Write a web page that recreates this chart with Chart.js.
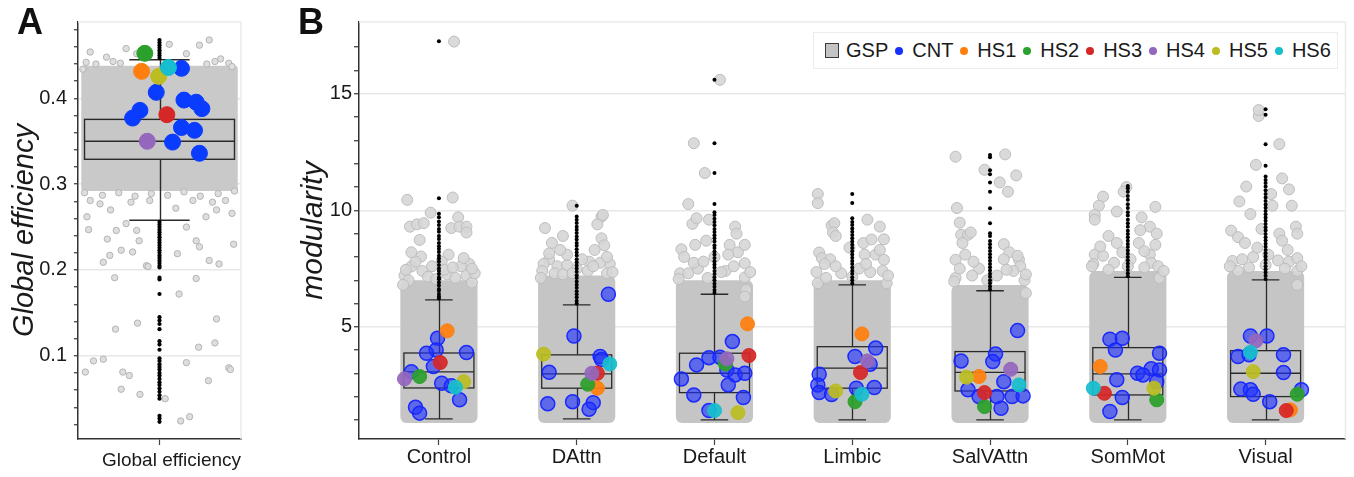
<!DOCTYPE html>
<html>
<head>
<meta charset="utf-8">
<script src="https://cdn.jsdelivr.net/npm/chart.js@4.4.1/dist/chart.umd.min.js"></script>
<style>
  body { margin: 0; background: #fff; }
  #wrap { position: relative; width: 1354px; height: 477px; overflow: hidden; font-family: "Liberation Sans", Arial, sans-serif; color: #1a1a1a; }
  #chartA { position: absolute; left: 0; top: 0; }
  #chartB { position: absolute; left: 255px; top: 0; }
  .panel { position: absolute; top: 4px; font-size: 36px; font-weight: bold; line-height: 36px; color: #111; }
  #legend { position: absolute; left: 813px; top: 32px; width: 525px; height: 37px; box-sizing: border-box;
            border: 1px solid #ececec; background: #fff; display: flex; align-items: center; font-size: 20px; }
  #legend .sq { width: 14px; height: 15px; margin-left: 11px; box-sizing: border-box; background: #c4c4c4; border: 1.5px solid #3a3a3a; }
  #legend .dot { width: 8px; height: 8px; border-radius: 50%; margin-left: 7px; }
  #legend .t { margin-left: 9px; }
</style>
</head>
<body>
<div id="wrap">
  <canvas id="chartA" width="250" height="477"></canvas>
  <canvas id="chartB" width="1099" height="477"></canvas>
  <div class="panel" style="left:17px">A</div>
  <div class="panel" style="left:298px">B</div>
  <div id="legend"></div>
</div>
<script>
const FONT = '"Liberation Sans", Arial, sans-serif';

// ---- panel A: global efficiency ----
const A_TICKS = [0.02, 0.04, 0.06, 0.08, 0.1, 0.12, 0.14, 0.16, 0.18, 0.2, 0.22, 0.24,
                 0.26, 0.28, 0.3, 0.32, 0.34, 0.36, 0.38, 0.4, 0.42, 0.44, 0.46, 0.48];
const A_LABELED = [0.1, 0.2, 0.3, 0.4];
const A_Q1 = [0.329];
const A_MED = [0.350];
const A_Q3 = [0.3755];
const A_LO = [0.258];
const A_HI = [0.445];
const A_CORE_TOP = [0.438];
const A_CORE_BOTTOM = [0.292];

// jitter, value
const GRAY_A = [
  [-0.91, 0.081], [-0.81, 0.094], [-0.69, 0.096], [-0.47, 0.061], [-0.45, 0.081], [-0.37, 0.077],
  [-0.24, 0.055], [-0.54, 0.131], [-0.27, 0.138], [-0.55, 0.191], [0.07, 0.05], [0.24, 0.172],
  [0.33, 0.092], [0.26, 0.024], [0.37, 0.029], [0.45, 0.19], [0.48, 0.11], [0.6, 0.071],
  [0.68, 0.115], [0.7, 0.143], [0.85, 0.086], [0.87, 0.084], [0.91, 0.23], [0.61, 0.211],
  [0.73, 0.207], [-0.16, 0.205], [-0.14, 0.204], [-0.47, 0.223], [-0.33, 0.221], [-0.61, 0.217],
  [-0.69, 0.209], [0.22, 0.219], [0.45, 0.234], [0.49, 0.227], [-0.89, 0.262], [-0.87, 0.247],
  [-0.64, 0.236], [-0.25, 0.234], [-0.53, 0.246], [-0.41, 0.254], [-0.28, 0.246], [0.33, 0.25],
  [0.57, 0.262], [0.89, 0.266], [-0.73, 0.277], [-0.85, 0.281], [0.65, 0.279], [0.81, 0.281],
  [0.41, 0.281], [-0.12, 0.281], [-0.6, 0.27], [0.2, 0.272], [-0.35, 0.279], [0.7, 0.27],
  [-0.92, 0.29], [-0.7, 0.287], [-0.5, 0.29], [-0.3, 0.286], [-0.1, 0.289], [0.1, 0.287],
  [0.3, 0.291], [0.5, 0.286], [0.72, 0.289], [0.92, 0.292],
  [-0.41, 0.458], [-0.28, 0.452], [0.49, 0.462], [0.61, 0.468], [0.12, 0.463], [-0.85, 0.454],
  [-0.65, 0.448], [0.75, 0.446], [0.85, 0.441], [-0.94, 0.434], [0.89, 0.437], [0.33, 0.452],
  [-0.57, 0.443], [-0.78, 0.44], [-0.48, 0.441], [0.58, 0.44], [0.68, 0.443], [-0.9, 0.442],
];
const BLACK_A = [
  0.447, 0.45, 0.453, 0.456, 0.459, 0.462, 0.465, 0.468,
  0.256, 0.253, 0.25, 0.247, 0.244, 0.241, 0.238, 0.235, 0.232, 0.229, 0.226, 0.223, 0.22,
  0.217, 0.214, 0.211, 0.208, 0.205, 0.203, 0.191, 0.189, 0.172, 0.145, 0.141, 0.137, 0.131,
  0.117, 0.113, 0.107, 0.097, 0.094, 0.09, 0.087, 0.084, 0.08, 0.077, 0.073, 0.069, 0.066,
  0.062, 0.058, 0.054, 0.05, 0.03, 0.027, 0.023,
];
const CNT_A = [
  [0.27, 0.435], [-0.04, 0.407], [0.3, 0.398], [0.45, 0.3955], [0.52, 0.388], [-0.24, 0.386],
  [-0.33, 0.377], [0.27, 0.366], [0.43, 0.3627], [0.16, 0.349], [0.49, 0.336],
];
const HS_A = [[-0.22, 0.4315], [-0.18, 0.4525], [0.09, 0.381], [-0.15, 0.35], [-0.01, 0.4257], [0.11, 0.436]];

// ---- panel B: modularity per network ----
const CATEGORIES = ['Control', 'DAttn', 'Default', 'Limbic', 'SalVAttn', 'SomMot', 'Visual'];
const B_TICKS = [1, 2, 3, 4, 5, 6, 7, 8, 9, 10, 11, 12, 13, 14, 15, 16, 17];
const B_LABELED = [5, 10, 15];
const B_Q1 = [2.38, 2.37, 2.18, 2.37, 2.25, 2.08, 2.01];
const B_MED = [3.07, 2.98, 3.01, 3.23, 3.05, 2.98, 3.01];
const B_Q3 = [3.88, 3.80, 3.87, 4.15, 3.94, 4.11, 3.98];
const B_LO = [1.05, 1.05, 1.01, 1.01, 1.01, 1.01, 1.01];
const B_HI = [6.16, 5.94, 6.40, 6.80, 6.55, 7.12, 7.02];
const B_CORE_TOP = [7.0, 7.2, 7.0, 7.0, 6.8, 7.4, 7.4];
const B_CORE_BOTTOM = [0.88, 0.88, 0.88, 0.88, 0.88, 0.88, 0.88];

const GRAY_B = [
  [[0.11, 17.24], [-0.23, 10.45], [0.1, 10.55], [-0.06, 9.9], [0.14, 9.7], [-0.21, 9.3], [-0.16, 9.4],
   [-0.11, 9.45], [0.09, 9.24], [0.15, 9.3], [0.2, 9.3], [0.2, 9.05], [-0.14, 8.73], [-0.13, 8.02],
   [0.07, 8.1], [-0.2, 7.59], [-0.25, 7.2], [0.22, 7.7], [0.2, 7.2], [0.24, 6.9], [0.16, 7.6],
   [0.06, 7.25], [-0.22, 7.0], [-0.12, 7.4], [-0.05, 7.6], [0.02, 7.8], [0.12, 7.1], [-0.26, 6.8],
   [0.26, 7.3], [-0.17, 7.8], [-0.24, 7.45], [-0.08, 7.15], [0.04, 7.45], [0.18, 7.95], [-0.2, 8.2],
   [0.24, 7.5], [-0.02, 7.05], [0.1, 7.55]],
  [[-0.03, 10.2], [0.18, 9.73], [0.19, 9.8], [-0.23, 9.24], [-0.1, 8.9], [-0.18, 8.6], [0.15, 9.4],
   [0.18, 8.8], [0.2, 8.5], [-0.2, 7.9], [-0.14, 7.6], [-0.24, 7.7], [0.24, 7.7], [0.09, 7.8],
   [0.17, 7.75], [-0.07, 7.65], [-0.25, 7.4], [-0.16, 7.3], [0.0, 7.5], [0.08, 7.4], [0.22, 7.3],
   [-0.07, 8.1], [0.13, 8.3], [-0.12, 8.3], [-0.26, 7.1], [-0.1, 7.25], [0.04, 7.9], [0.12, 7.6],
   [0.26, 7.35], [-0.2, 8.15], [0.22, 8.0], [-0.03, 7.3]],
  [[0.04, 15.6], [-0.15, 12.88], [-0.07, 11.6], [-0.19, 10.27], [-0.16, 9.42], [-0.13, 9.66],
   [-0.04, 9.6], [0.15, 9.3], [0.16, 9.0], [-0.24, 8.33], [-0.14, 8.52], [-0.06, 8.7], [0.11, 8.52],
   [0.17, 8.2], [0.22, 8.52], [0.22, 7.73], [-0.25, 7.3], [-0.19, 7.3], [-0.12, 7.5], [0.22, 7.12],
   [0.23, 6.59], [0.22, 6.3], [0.0, 8.0], [0.08, 7.4], [-0.05, 7.1], [-0.26, 7.05], [-0.15, 7.75],
   [0.05, 7.35], [0.14, 7.6], [0.26, 7.35], [-0.22, 8.0], [0.1, 8.1], [-0.08, 7.8]],
  [[-0.25, 10.7], [-0.25, 10.31], [0.11, 9.6], [0.2, 9.3], [0.23, 8.76], [-0.15, 9.35], [-0.13, 9.45],
   [-0.14, 9.05], [-0.12, 8.9], [-0.24, 8.19], [-0.22, 7.95], [-0.16, 7.9], [0.08, 8.6], [0.14, 8.75],
   [0.17, 8.1], [0.23, 7.88], [0.22, 7.4], [-0.25, 6.87], [-0.19, 7.1], [0.25, 6.87], [0.09, 8.1],
   [-0.02, 8.4], [0.05, 7.5], [-0.08, 7.3], [-0.26, 7.35], [-0.12, 7.6], [0.0, 7.15], [0.13, 7.35],
   [0.26, 7.2], [-0.2, 7.7], [0.2, 8.3], [0.1, 7.7]],
  [[-0.25, 12.3], [0.11, 12.4], [-0.04, 11.74], [0.07, 11.2], [0.19, 11.5], [0.13, 10.8], [-0.24, 10.1],
   [-0.22, 9.47], [-0.21, 8.95], [-0.16, 8.95], [-0.14, 9.05], [-0.2, 8.6], [-0.25, 7.88], [-0.25, 7.1],
   [0.1, 8.55], [0.14, 8.2], [0.21, 7.88], [0.22, 7.6], [0.17, 7.4], [0.25, 7.0], [0.26, 6.45],
   [0.1, 7.9], [-0.18, 8.1], [-0.08, 7.5], [0.05, 7.2], [-0.26, 6.95], [-0.13, 7.2], [-0.02, 7.0],
   [0.12, 7.45], [0.26, 7.25], [-0.22, 7.5], [0.2, 8.05], [-0.12, 7.8]],
  [[-0.01, 11.0], [-0.03, 10.8], [-0.18, 10.59], [-0.21, 10.2], [-0.24, 9.8], [-0.24, 9.6], [-0.08, 9.95],
   [0.1, 9.7], [0.2, 10.15], [0.16, 9.3], [0.21, 9.0], [0.09, 9.15], [-0.14, 8.9], [-0.08, 8.6],
   [0.08, 8.6], [0.2, 8.52], [0.16, 8.1], [-0.24, 8.1], [-0.18, 8.05], [-0.25, 7.7], [-0.1, 7.75],
   [0.17, 7.75], [0.22, 7.6], [0.23, 7.1], [0.02, 7.9], [-0.26, 7.6], [-0.14, 7.45], [0.0, 7.6],
   [0.12, 7.55], [0.26, 7.4], [-0.2, 8.45], [0.12, 8.25], [-0.04, 8.2]],
  [[-0.05, 14.05], [-0.05, 14.3], [0.1, 12.84], [-0.07, 11.95], [0.12, 11.37], [-0.14, 11.02],
   [0.17, 10.9], [-0.19, 10.38], [0.04, 10.7], [0.19, 10.2], [-0.11, 9.84], [0.05, 10.2], [0.22, 9.3],
   [-0.25, 9.13], [-0.2, 8.85], [-0.15, 8.6], [0.23, 9.0], [0.1, 9.0], [0.12, 8.7], [-0.03, 9.2],
   [-0.24, 7.83], [-0.17, 7.9], [-0.09, 8.0], [0.09, 7.85], [0.17, 7.8], [0.23, 7.95], [0.23, 7.4],
   [0.23, 6.8], [-0.2, 7.4], [-0.26, 7.6], [-0.12, 7.55], [0.0, 7.65], [0.14, 7.5], [0.26, 7.6],
   [-0.06, 8.4], [0.16, 8.3], [0.02, 8.1]],
];

const BLACK_B = [
  [6.22, 6.3, 6.41, 6.55, 6.62, 6.78, 6.9, 7.04, 7.12, 7.27, 7.4, 7.51, 7.66, 7.8, 7.93, 8.05, 8.21,
   8.34, 8.46, 8.6, 8.77, 8.9, 9.08, 9.2, 9.37, 9.52, 9.7, 9.85, 10.52, 17.25],
  [6.0, 6.12, 6.27, 6.4, 6.53, 6.68, 6.81, 6.95, 7.1, 7.22, 7.36, 7.5, 7.63, 7.77, 7.9, 8.06, 8.19,
   8.33, 8.48, 8.6, 8.75, 8.88, 9.03, 9.17, 9.3, 9.46, 9.6, 9.74, 10.2],
  [6.46, 6.58, 6.72, 6.85, 7.0, 7.13, 7.27, 7.4, 7.55, 7.68, 7.82, 7.96, 8.1, 8.23, 8.38, 8.5, 8.66,
   8.8, 8.93, 9.07, 9.2, 9.36, 9.5, 9.64, 9.8, 9.92, 10.27, 11.6, 12.88, 15.6],
  [6.86, 7.0, 7.13, 7.28, 7.41, 7.55, 7.7, 7.83, 7.97, 8.1, 8.25, 8.38, 8.52, 8.66, 8.8, 8.94, 9.08,
   9.22, 9.37, 9.5, 9.66, 10.31, 10.7],
  [6.6, 6.73, 6.87, 7.0, 7.15, 7.28, 7.42, 7.56, 7.7, 7.84, 7.98, 8.12, 8.26, 8.4, 8.55, 8.68, 8.9,
   9.02, 9.45, 10.09, 10.8, 11.19, 11.55, 11.72, 12.28, 12.37],
  [7.17, 7.3, 7.44, 7.58, 7.72, 7.86, 8.0, 8.14, 8.28, 8.43, 8.56, 8.7, 8.85, 8.98, 9.12, 9.3, 9.45,
   9.6, 9.78, 9.92, 10.1, 10.26, 10.45, 10.62, 10.8, 10.95, 11.04],
  [7.05, 7.19, 7.33, 7.47, 7.6, 7.74, 7.88, 8.02, 8.16, 8.3, 8.44, 8.57, 8.71, 8.85, 8.99, 9.13, 9.27,
   9.41, 9.55, 9.69, 9.83, 9.97, 10.11, 10.25, 10.4, 10.55, 10.7, 10.86, 11.02, 11.17, 11.3, 11.45,
   11.91, 12.84, 14.1, 14.34],
];

const CNT_B = [
  [[-0.01, 4.51], [-0.02, 4.01], [-0.09, 3.87], [0.2, 3.9], [-0.04, 3.3], [-0.2, 3.08], [0.02, 2.58],
   [0.09, 2.47], [0.15, 1.87], [-0.17, 1.55], [-0.14, 1.3]],
  [[0.23, 6.4], [-0.02, 4.61], [0.17, 3.73], [0.18, 3.6], [-0.2, 3.05], [-0.21, 1.7], [-0.03, 1.79],
   [0.12, 1.75], [0.09, 1.47]],
  [[0.13, 4.37], [-0.04, 3.68], [0.04, 3.7], [-0.13, 3.37], [0.09, 3.15], [0.15, 2.94], [0.22, 3.01],
   [-0.24, 2.76], [0.1, 2.51], [-0.15, 2.08], [0.21, 1.97], [-0.04, 1.41]],
  [[0.17, 4.09], [0.02, 3.73], [0.13, 3.4], [-0.24, 2.97], [-0.25, 2.51], [-0.24, 2.18], [-0.15, 2.1],
   [0.03, 2.37], [0.16, 2.4]],
  [[0.2, 4.84], [0.04, 3.84], [0.02, 3.51], [-0.21, 3.54], [0.1, 2.65], [-0.16, 2.3], [-0.08, 2.01],
   [0.05, 2.01], [0.16, 2.01], [0.24, 2.04], [0.08, 1.51]],
  [[-0.13, 4.47], [-0.04, 4.51], [-0.09, 4.01], [0.23, 3.87], [0.17, 3.2], [0.23, 3.15], [0.07, 3.01],
   [0.11, 2.94], [-0.08, 2.73], [0.21, 2.65], [-0.04, 1.97], [-0.13, 1.37]],
  [[-0.11, 4.61], [0.01, 4.61], [-0.2, 3.73], [-0.12, 3.8], [0.13, 3.8], [0.13, 3.04], [-0.18, 2.33],
   [-0.11, 2.3], [-0.09, 2.11], [0.26, 2.3], [0.03, 1.79]],
];

// one subject per network for each HS series (null = not visible)
const HS1_B = [4.83, 2.37, 5.13, 4.70, 2.87, 3.30, 1.44];
const HS1_DX = [0.06, 0.15, 0.24, 0.07, -0.08, -0.2, 0.18];
const HS2_B = [2.87, 2.54, 3.41, 1.79, 1.58, 1.87, 2.11];
const HS2_DX = [-0.14, 0.08, 0.08, 0.02, -0.04, 0.21, 0.23];
const HS3_B = [3.47, 3.01, 3.77, 3.04, 2.18, 2.15, 1.41];
const HS3_DX = [0.01, 0.15, 0.25, 0.06, -0.04, -0.17, 0.15];
const HS4_B = [2.77, 3.01, 3.63, 3.54, 3.18, null, 4.40];
const HS4_DX = [-0.25, 0.11, 0.09, 0.11, 0.15, null, -0.07];
const HS5_B = [2.65, 3.83, 1.32, 2.25, 2.84, 2.37, 3.08];
const HS5_DX = [0.18, -0.24, 0.17, -0.12, -0.17, 0.19, -0.09];
const HS6_B = [2.41, 3.41, 1.41, 2.11, 2.51, 2.37, 3.91];
const HS6_DX = [0.12, 0.24, 0.0, 0.07, 0.21, -0.25, -0.11];

const SERIES = ['CNT', 'HS1', 'HS2', 'HS3', 'HS4', 'HS5', 'HS6'];
const SERIES_COLORS = ['#1530ff', '#ff7f0e', '#2ca02c', '#d62728', '#9467bd', '#bcbd22', '#17becf'];

// ---- helpers ----
const isLabeled = (v, list) => list.some((t) => Math.abs(t - v) < 1e-9);
const hexA = (hex, a) => {
  const n = parseInt(hex.slice(1), 16);
  return `rgba(${n >> 16},${(n >> 8) & 255},${n & 255},${a})`;
};

// the frame (faint top/right edge) and the box plots, drawn in data units
const framePlugin = {
  id: 'frame',
  beforeDatasetsDraw(chart, args, o) {
    const { ctx, chartArea: a } = chart;
    ctx.save();
    ctx.strokeStyle = o.color;
    ctx.lineWidth = 1.5;
    ctx.beginPath();
    ctx.moveTo(a.left, a.top);
    ctx.lineTo(a.right, a.top);
    ctx.lineTo(a.right, a.bottom);
    ctx.stroke();
    ctx.restore();
  },
};

const boxPlugin = {
  id: 'boxes',
  beforeDatasetsDraw(chart, args, o) {
    const { ctx, scales: { x, y } } = chart;
    ctx.save();
    ctx.fillStyle = o.coreColor;
    o.coreTop.forEach((top, i) => {
      const l = x.getPixelForValue(i - o.coreHalf);
      const r = x.getPixelForValue(i + o.coreHalf);
      const t = y.getPixelForValue(top);
      const b = y.getPixelForValue(o.coreBottom[i]);
      ctx.beginPath();
      if (ctx.roundRect) ctx.roundRect(l, t, r - l, b - t, o.coreRadius);
      else ctx.rect(l, t, r - l, b - t);
      ctx.fill();
    });
    ctx.restore();
  },
  beforeDatasetDraw(chart, args, o) {
    if (!chart.data.datasets[args.index].boxesBelow) return;
    const { ctx, scales: { x, y } } = chart;
    ctx.save();
    ctx.strokeStyle = o.lineColor;
    ctx.lineWidth = o.lineWidth;
    o.q1.forEach((q1, i) => {
      const cx = Math.round(x.getPixelForValue(i)) + 0.5;
      const l = x.getPixelForValue(i - o.boxHalf);
      const r = x.getPixelForValue(i + o.boxHalf);
      const cl = x.getPixelForValue(i - o.capHalf);
      const cr = x.getPixelForValue(i + o.capHalf);
      const yq1 = y.getPixelForValue(q1);
      const yq3 = y.getPixelForValue(o.q3[i]);
      const ym = y.getPixelForValue(o.med[i]);
      const ylo = y.getPixelForValue(o.lo[i]);
      const yhi = y.getPixelForValue(o.hi[i]);
      if (o.boxFill) {
        ctx.fillStyle = o.boxFill;
        ctx.fillRect(l, yq3, r - l, yq1 - yq3);
      }
      ctx.beginPath();
      ctx.moveTo(cx, yhi); ctx.lineTo(cx, yq3);
      ctx.moveTo(cx, yq1); ctx.lineTo(cx, ylo);
      ctx.moveTo(cl, yhi); ctx.lineTo(cr, yhi);
      ctx.moveTo(cl, ylo); ctx.lineTo(cr, ylo);
      ctx.moveTo(l, ym); ctx.lineTo(r, ym);
      ctx.stroke();
      ctx.strokeRect(l, yq3, r - l, yq1 - yq3);
    });
    ctx.restore();
  },
};

const pointSet = (label, data, opts) => ({
  label,
  data,
  showLine: false,
  pointRadius: opts.r,
  pointBackgroundColor: opts.fill,
  pointBorderColor: opts.stroke,
  pointBorderWidth: opts.bw ?? 1,
  order: opts.order,
  boxesBelow: opts.boxesBelow || false,
});

const yAxis = ({ min, max, ticks, labeled, width, title, titleSize, titlePad, tickLength, tickPad }) => ({
  min,
  max,
  afterBuildTicks: (s) => { s.ticks = ticks.map((v) => ({ value: v })); },
  afterFit: (s) => { s.width = width; },
  ticks: {
    autoSkip: false,
    padding: tickPad,
    color: '#1a1a1a',
    font: { family: FONT, size: 20 },
    callback: (v) => (isLabeled(v, labeled) ? String(v) : ''),
  },
  grid: {
    color: (c) => (c.tick && isLabeled(c.tick.value, labeled) ? '#e8e8e8' : 'rgba(0,0,0,0)'),
    lineWidth: 1.5,
    tickLength,
    tickColor: '#333',
    tickWidth: 1.2,
  },
  border: { color: '#333', width: 1.5 },
  title: {
    display: true,
    text: title,
    color: '#1a1a1a',
    font: { family: FONT, size: titleSize, style: 'italic' },
    padding: { top: titlePad, bottom: 0 },
  },
});

const xAxis = ({ min, max, values, labels, fontSize, pad, shift }) => ({
  type: 'linear',
  min,
  max,
  afterBuildTicks: (s) => { s.ticks = values.map((v) => ({ value: v })); },
  afterFit: (s) => { s.height = 38; },
  ticks: {
    autoSkip: false,
    maxRotation: 0,
    padding: pad,
    labelOffset: shift || 0,
    color: '#1a1a1a',
    font: { family: FONT, size: fontSize },
    callback: (v, i) => labels[i],
  },
  grid: { drawOnChartArea: false, tickLength: 6, tickColor: '#444', tickWidth: 1.2 },
  border: { color: '#333', width: 1.5 },
});

const baseOptions = {
  responsive: false,
  animation: false,
  events: [],
};

// ---- panel A ----
const aDatasets = [];
HS_A.forEach((p, k) => {
  aDatasets.push(pointSet(SERIES[k + 1], [{ x: p[0], y: p[1] }], {
    r: 8, fill: SERIES_COLORS[k + 1], stroke: SERIES_COLORS[k + 1], bw: 1, order: 6 - k,
  }));
});
aDatasets.push(pointSet('CNT', CNT_A.map(([dx, v]) => ({ x: dx, y: v })), {
  r: 8, fill: '#0a3cff', stroke: '#0a3cff', order: 7,
}));
aDatasets.push(pointSet('outliers', BLACK_A.map((v) => ({ x: 0, y: v })), {
  r: 2.1, fill: '#000', stroke: '#000', bw: 0, order: 8, boxesBelow: true,
}));
aDatasets.push(pointSet('GSP', GRAY_A.map(([dx, v]) => ({ x: dx, y: v })), {
  r: 3.2, fill: '#dedede', stroke: '#b4b4b4', bw: 1, order: 9,
}));

new Chart(document.getElementById('chartA'), {
  type: 'scatter',
  data: { datasets: aDatasets },
  options: {
    ...baseOptions,
    layout: { padding: { top: 22, right: 8, left: 0, bottom: 0 } },
    plugins: {
      legend: { display: false },
      tooltip: { enabled: false },
      frame: { color: '#ececec' },
      boxes: {
        q1: A_Q1, med: A_MED, q3: A_Q3, lo: A_LO, hi: A_HI,
        boxHalf: 0.92, capHalf: 0.37, lineColor: '#2a2a2a', lineWidth: 1.4,
        boxFill: 'rgba(196,196,196,0.55)',
        coreTop: A_CORE_TOP, coreBottom: A_CORE_BOTTOM, coreHalf: 0.96, coreRadius: 3, coreColor: '#c9c9c9',
      },
    },
    scales: {
      x: xAxis({ min: -1, max: 1, values: [0], labels: ['Global efficiency'], fontSize: 19, pad: 4, shift: 12 }),
      y: yAxis({
        min: 0.003, max: 0.489, ticks: A_TICKS, labeled: A_LABELED, width: 78,
        title: 'Global efficiency', titleSize: 29, titlePad: 8, tickLength: 4, tickPad: 7,
      }),
    },
  },
  plugins: [framePlugin, boxPlugin],
});

// ---- panel B ----
const HS_B = [HS1_B, HS2_B, HS3_B, HS4_B, HS5_B, HS6_B];
const HS_DX = [HS1_DX, HS2_DX, HS3_DX, HS4_DX, HS5_DX, HS6_DX];
const bDatasets = [];
HS_B.forEach((vals, k) => {
  const data = [];
  vals.forEach((v, i) => { if (v !== null) data.push({ x: i + HS_DX[k][i], y: v }); });
  const c = SERIES_COLORS[k + 1];
  bDatasets.push(pointSet(SERIES[k + 1], data, { r: 7, fill: hexA(c, 0.93), stroke: c, bw: 1, order: 6 - k }));
});
bDatasets.push(pointSet('CNT', CNT_B.flatMap((pts, i) => pts.map(([dx, v]) => ({ x: i + dx, y: v }))), {
  r: 7, fill: 'rgba(30,48,255,0.62)', stroke: 'rgba(20,36,255,0.95)', bw: 1.5, order: 7,
}));
bDatasets.push(pointSet('outliers', BLACK_B.flatMap((vals, i) => vals.map((v) => ({ x: i, y: v }))), {
  r: 2, fill: '#000', stroke: '#000', bw: 0, order: 8, boxesBelow: true,
}));
bDatasets.push(pointSet('GSP', GRAY_B.flatMap((pts, i) => pts.map(([dx, v]) => ({ x: i + dx, y: v }))), {
  r: 5.5, fill: 'rgba(214,214,214,0.9)', stroke: '#bdbdbd', bw: 1, order: 9,
}));

new Chart(document.getElementById('chartB'), {
  type: 'scatter',
  data: { datasets: bDatasets },
  options: {
    ...baseOptions,
    layout: { padding: { top: 22, right: 7, left: 0, bottom: 0 } },
    plugins: {
      legend: { display: false },
      tooltip: { enabled: false },
      frame: { color: '#ececec' },
      boxes: {
        q1: B_Q1, med: B_MED, q3: B_Q3, lo: B_LO, hi: B_HI,
        boxHalf: 0.254, capHalf: 0.1, lineColor: '#2a2a2a', lineWidth: 1.3,
        boxFill: null,
        coreTop: B_CORE_TOP, coreBottom: B_CORE_BOTTOM, coreHalf: 0.28, coreRadius: 6, coreColor: '#c5c5c5',
      },
    },
    scales: {
      x: xAxis({ min: -0.58, max: 6.58, values: CATEGORIES.map((_, i) => i), labels: CATEGORIES, fontSize: 20, pad: 0 }),
      y: yAxis({
        min: 0.19, max: 18.08, ticks: B_TICKS, labeled: B_LABELED, width: 104,
        title: 'modularity', titleSize: 30, titlePad: 41, tickLength: 5, tickPad: 2,
      }),
    },
  },
  plugins: [framePlugin, boxPlugin],
});

// ---- legend ----
const legend = document.getElementById('legend');
legend.innerHTML = '<span class="sq"></span><span class="t" style="margin-left:7px">GSP</span>' +
  SERIES.map((s, k) => `<span class="dot" style="background:${SERIES_COLORS[k]}"></span><span class="t">${s}</span>`).join('');
</script>
</body>
</html>
